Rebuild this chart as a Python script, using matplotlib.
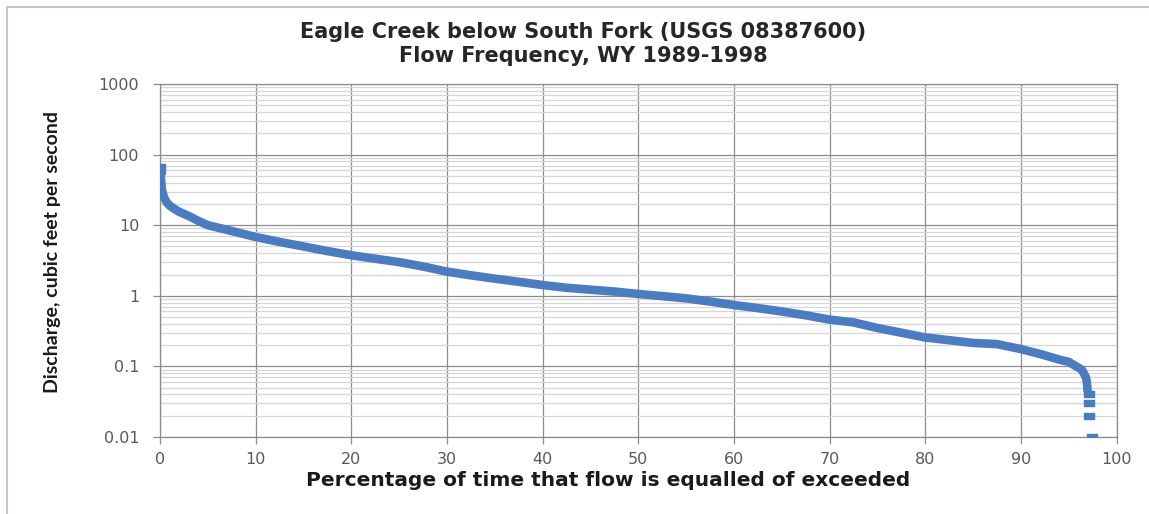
import matplotlib
matplotlib.use("Agg")
import matplotlib.pyplot as plt
from matplotlib.lines import Line2D
from matplotlib.ticker import LogLocator, FixedLocator, NullFormatter

# flow duration curve, percent of time exceeded vs discharge (cfs)
pct = [0, 0.1, 0.2, 0.4, 0.7, 1.0, 1.5, 2, 3, 4, 5, 7, 10, 12.5, 15, 17.5,
       20, 22.5, 25, 27.5, 30, 32.5, 35, 37.5, 40, 42.5, 45, 47.5, 50, 52.5,
       55, 57.5, 60, 62.5, 65, 67.5, 70, 72.5, 75, 77.5, 80, 82.5, 85, 87.5,
       90, 92, 94, 95, 95.8, 96.4, 96.8, 96.9, 96.95]
flow = [62, 45, 32, 25, 21, 19, 17, 15.5, 13.5, 11.5, 10, 8.6, 6.8, 5.8, 5.0,
        4.3, 3.75, 3.35, 3.0, 2.6, 2.2, 1.95, 1.75, 1.58, 1.42, 1.3, 1.22,
        1.15, 1.06, 0.99, 0.92, 0.83, 0.74, 0.67, 0.6, 0.53, 0.46, 0.42, 0.35,
        0.3, 0.257, 0.235, 0.215, 0.207, 0.176, 0.15, 0.125, 0.116, 0.1,
        0.089, 0.07, 0.06, 0.05]
# lowest flows, reported to 0.01 cfs
tail_pct = [97.1, 97.1, 97.1, 97.4]
tail_flow = [0.04, 0.03, 0.02, 0.01]

xticks = [0, 10, 20, 30, 40, 50, 60, 70, 80, 90, 100]
yticks = [0.01, 0.1, 1, 10, 100, 1000]
ytick_labels = ["0.01", "0.1", "1", "10", "100", "1000"]

blue = "#4a7cbf"
rect = [(-1.5, -1), (1.5, -1), (1.5, 1), (-1.5, 1), (-1.5, -1)]

fig = plt.figure(figsize=(11.49, 5.14), dpi=100)
ax = fig.add_axes([160 / 1149, 1 - 437 / 514, 956.5 / 1149, 353 / 514])

ax.set_yscale("log")
ax.set_xlim(0, 100)
ax.set_ylim(0.01, 1000)

ax.plot(pct, flow, color=blue, lw=6.2, solid_capstyle="projecting",
        solid_joinstyle="round", zorder=3)
ax.plot(pct[:1], flow[:1], ls="none", marker="s", ms=7, mec=blue, mfc=blue,
        zorder=3)
ax.plot(tail_pct, tail_flow, ls="none", marker=rect, ms=7, mec=blue, mfc=blue,
        zorder=3)

ax.xaxis.set_major_locator(FixedLocator(xticks))
ax.yaxis.set_major_locator(FixedLocator(yticks))
ax.set_yticklabels(ytick_labels)
ax.yaxis.set_minor_locator(LogLocator(base=10, subs=range(2, 10)))
ax.yaxis.set_minor_formatter(NullFormatter())

ax.grid(True, which="major", color="#8c8c8c", lw=0.9)
ax.grid(True, which="minor", axis="y", color="#d6d6d6", lw=0.9)
ax.set_axisbelow(True)

for s in ax.spines.values():
    s.set_color("#8c8c8c")
    s.set_linewidth(0.9)

ax.tick_params(axis="both", which="major", length=5, width=0.9, color="#8c8c8c",
               labelsize=11.5, labelcolor="#595959")
ax.tick_params(axis="y", which="major", pad=10)
ax.tick_params(axis="x", which="major", pad=6)
ax.tick_params(axis="y", which="minor", length=0)

ax.set_xlabel("Percentage of time that flow is equalled of exceeded",
              fontsize=14.5, fontweight="bold", color="#1a1a1a")
ax.xaxis.set_label_coords((608 - 160) / 956.5, -0.095)

fig.text(53 / 1149, 1 - 252 / 514, "Discharge, cubic feet per second",
         family=["Lato", "DejaVu Sans"], fontsize=14, fontweight="bold",
         color="#1a1a1a", rotation=90, ha="center", va="center")

fig.text(583 / 1149, 1 - 44 / 514,
         "Eagle Creek below South Fork (USGS 08387600)\nFlow Frequency, WY 1989-1998",
         ha="center", va="center", fontsize=15, fontweight="bold",
         color="#262626", linespacing=1.25)

# outer chart border (left and top edges visible)
fig.add_artist(Line2D([7 / 1149, 7 / 1149], [0, 1 - 7 / 514],
                      transform=fig.transFigure, color="#c8c8c8", lw=1.5))
fig.add_artist(Line2D([7 / 1149, 1], [1 - 7 / 514, 1 - 7 / 514],
                      transform=fig.transFigure, color="#c8c8c8", lw=1.5))

fig.savefig("out.png", dpi=100)
